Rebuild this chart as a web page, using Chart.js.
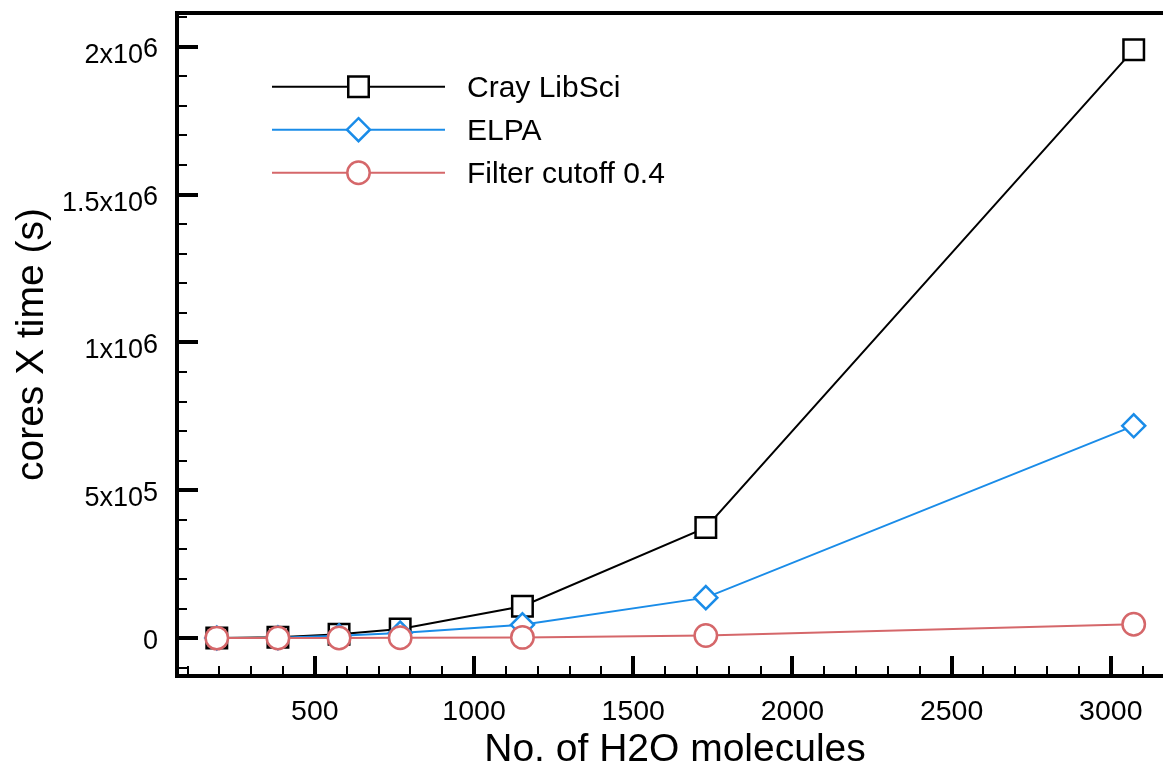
<!DOCTYPE html>
<html><head><meta charset="utf-8">
<script src="https://cdn.jsdelivr.net/npm/chart.js@4.4.1/dist/chart.umd.min.js"></script>
<style>html,body{margin:0;padding:0;background:#fff;overflow:hidden}canvas{display:block}</style>
</head><body><canvas id="c" width="1163" height="768" style="width:1163px;height:768px"></canvas>
<script>
const molecules = [192, 384, 576, 768, 1152, 1728, 3072];
const crayLibSci = [800, 3000, 13000, 31000, 108000, 374000, 1990000];
const elpa = [500, 1500, 8000, 17000, 45000, 137000, 718000];
const filterCutoff = [200, 400, 700, 1200, 2500, 9000, 47000];
const seriesNames = ['Cray LibSci', 'ELPA', 'Filter cutoff 0.4'];
const xTickValues = [500, 1000, 1500, 2000, 2500, 3000];
const xTickLabels = ['500', '1000', '1500', '2000', '2500', '3000'];
const yTickValues = [0, 5e5, 1e6, 1.5e6, 2e6];
const yTickBase = ['0', '5x10', '1x10', '1.5x10', '2x10'];
const yTickExp = ['', '5', '6', '6', '6'];
const xTitle = 'No. of H2O molecules';
const yTitle = 'cores X time (s)';

const FONT = "'Liberation Sans', Arial, Helvetica, sans-serif";
const colors = ['#000000', '#1a8ce8', '#d5676a'];
const styles = ['rect', 'rectRot', 'circle'];
const radii = [14.5, 11.5, 11.2];
const seriesData = [crayLibSci, elpa, filterCutoff];

function pts(arr) { return molecules.map((m, i) => ({ x: m, y: arr[i] })); }

function drawMarker(ctx, style, x, y, r) {
  ctx.beginPath();
  if (style === 'rect') {
    const s = Math.SQRT1_2 * r;
    ctx.rect(x - s, y - s, 2 * s, 2 * s);
  } else if (style === 'rectRot') {
    ctx.moveTo(x, y - r); ctx.lineTo(x + r, y); ctx.lineTo(x, y + r); ctx.lineTo(x - r, y); ctx.closePath();
  } else {
    ctx.arc(x, y, r, 0, Math.PI * 2);
  }
  ctx.fill(); ctx.stroke();
}

const decor = {
  id: 'decor',
  afterDraw(chart) {
    const ctx = chart.ctx, ca = chart.chartArea, xs = chart.scales.x, ys = chart.scales.y;
    ctx.save();
    ctx.strokeStyle = '#000'; ctx.fillStyle = '#000'; ctx.lineCap = 'butt';
    // frame
    ctx.lineWidth = 4;
    ctx.beginPath();
    ctx.moveTo(ca.left - 2, ca.top); ctx.lineTo(ca.right, ca.top);
    ctx.moveTo(ca.left, ca.top); ctx.lineTo(ca.left, ca.bottom);
    ctx.moveTo(ca.left - 2, ca.bottom); ctx.lineTo(ca.right, ca.bottom);
    ctx.stroke();
    // minor ticks
    ctx.lineWidth = 2;
    ctx.beginPath();
    for (let v = 100; v <= xs.max; v += 100) {
      if (v % 500 === 0) continue;
      const p = Math.round(xs.getPixelForValue(v));
      ctx.moveTo(p, ca.bottom); ctx.lineTo(p, ca.bottom - 10);
    }
    for (let v = -100000; v <= ys.max; v += 100000) {
      if (v % 500000 === 0) continue;
      const p = Math.round(ys.getPixelForValue(v));
      ctx.moveTo(ca.left, p); ctx.lineTo(ca.left + 10, p);
    }
    ctx.stroke();
    // major ticks
    ctx.lineWidth = 4;
    ctx.beginPath();
    xTickValues.forEach(v => {
      const p = Math.round(xs.getPixelForValue(v));
      ctx.moveTo(p, ca.bottom); ctx.lineTo(p, ca.bottom - 20);
    });
    yTickValues.forEach(v => {
      const p = Math.round(ys.getPixelForValue(v));
      ctx.moveTo(ca.left, p); ctx.lineTo(ca.left + 21, p);
    });
    ctx.stroke();
    // x tick labels
    ctx.font = '28.5px ' + FONT;
    ctx.textAlign = 'center'; ctx.textBaseline = 'alphabetic';
    xTickValues.forEach((v, i) => {
      ctx.fillText(xTickLabels[i], xs.getPixelForValue(v), 720);
    });
    // y tick labels
    ctx.font = '27px ' + FONT;
    ctx.textAlign = 'left';
    const rightEdge = 158;
    yTickValues.forEach((v, i) => {
      const p = ys.getPixelForValue(v);
      const base = yTickBase[i], ex = yTickExp[i];
      const wb = ctx.measureText(base).width, we = ex ? ctx.measureText(ex).width : 0;
      const x0 = rightEdge - wb - we;
      if (ex) {
        ctx.fillText(base, x0, p + 16);
        ctx.fillText(ex, x0 + wb, p + 10.5);
      } else {
        ctx.fillText(base, x0, p + 11);
      }
    });
    // axis titles
    ctx.font = '39px ' + FONT;
    ctx.textAlign = 'center';
    ctx.fillText(xTitle, 675, 761);
    ctx.save();
    ctx.translate(43, 344.5);
    ctx.rotate(-Math.PI / 2);
    ctx.fillText(yTitle, 0, 0);
    ctx.restore();
    // legend
    ctx.font = '30px ' + FONT;
    ctx.textAlign = 'left';
    chart.data.datasets.forEach((ds, i) => {
      const y = 86.7 + 43 * i;
      ctx.strokeStyle = ds.borderColor; ctx.lineWidth = ds.borderWidth;
      ctx.beginPath(); ctx.moveTo(272, y); ctx.lineTo(445, y); ctx.stroke();
      ctx.fillStyle = '#fff'; ctx.strokeStyle = ds.pointBorderColor; ctx.lineWidth = ds.pointBorderWidth;
      drawMarker(ctx, ds.pointStyle, 358.5, y, ds.pointRadius);
      ctx.fillStyle = '#000';
      ctx.fillText(ds.label, 467, y + 10.5);
    });
    ctx.restore();
  }
};

new Chart(document.getElementById('c'), {
  type: 'line',
  data: {
    datasets: seriesData.map((arr, i) => ({
      label: seriesNames[i],
      data: pts(arr),
      borderColor: colors[i],
      borderWidth: 2,
      pointStyle: styles[i],
      pointRadius: radii[i],
      pointHoverRadius: radii[i],
      pointBackgroundColor: '#ffffff',
      pointBorderColor: colors[i],
      pointBorderWidth: 2.5,
      tension: 0,
      fill: false,
      clip: false,
      order: 3 - i
    }))
  },
  options: {
    responsive: false,
    devicePixelRatio: 1,
    animation: false,
    layout: { autoPadding: false, padding: { left: 177, right: 0, top: 13, bottom: 92 } },
    scales: {
      x: { type: 'linear', min: 67, max: 3164, display: false },
      y: { type: 'linear', min: -128000, max: 2114000, display: false }
    },
    plugins: { legend: { display: false }, tooltip: { enabled: false } }
  },
  plugins: [decor]
});
</script>
</body></html>
